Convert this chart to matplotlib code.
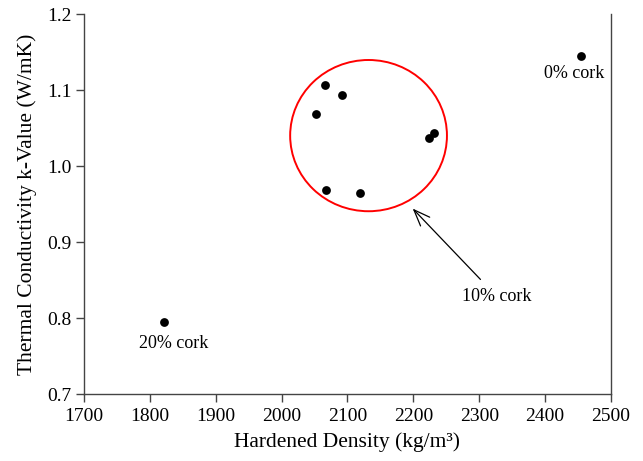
import matplotlib.pyplot as plt
from matplotlib.patches import Ellipse

plt.rcParams['font.family'] = ['Liberation Serif', 'DejaVu Serif']

# hardened density (kg/m3) and k-value (W/mK) per mix
density_0 = [2454]
kvalue_0 = [1.145]
density_10 = [2066, 2092, 2052, 2068, 2119, 2224, 2232]
kvalue_10 = [1.107, 1.093, 1.068, 0.968, 0.965, 1.037, 1.044]
density_20 = [1821]
kvalue_20 = [0.795]

x_ticks = [1700, 1800, 1900, 2000, 2100, 2200, 2300, 2400, 2500]
y_ticks = [0.7, 0.8, 0.9, 1.0, 1.1, 1.2]

fig, ax = plt.subplots(figsize=(6.43, 4.61), dpi=100)
fig.subplots_adjust(left=0.1306, right=0.9502, top=0.9696, bottom=0.1453)

for xs, ys in [(density_0, kvalue_0), (density_10, kvalue_10), (density_20, kvalue_20)]:
    ax.scatter(xs, ys, s=40, color='black', zorder=3, linewidths=0)

# ring around the 10% cork group
ax.add_patch(Ellipse((2132, 1.040), 238, 0.199, fill=False, edgecolor='red', lw=1.4))

ax.annotate('10% cork', xy=(2199, 0.944), xytext=(2327, 0.828),
            ha='center', va='center', fontsize=13,
            arrowprops=dict(arrowstyle='->,head_length=0.9,head_width=0.35',
                            color='black', lw=0.9, shrinkA=6, shrinkB=0))
ax.text(1836, 0.767, '20% cork', ha='center', va='center', fontsize=13)
ax.text(2444, 1.122, '0% cork', ha='center', va='center', fontsize=13)

ax.set_xlim(1700, 2500)
ax.set_ylim(0.7, 1.2)
ax.set_xticks(x_ticks)
ax.set_yticks(y_ticks)
ax.set_yticklabels([f'{v:.1f}' for v in y_ticks])
ax.tick_params(direction='out', length=6, width=1, color='#444444', labelsize=14, pad=3)
ax.tick_params(axis='x', pad=4)

ax.spines['top'].set_visible(False)
for side in ['left', 'bottom', 'right']:
    ax.spines[side].set_color('#444444')
    ax.spines[side].set_linewidth(1)

ax.set_xlabel('Hardened Density (kg/m³)', fontsize=15.5, labelpad=5)
ax.set_ylabel('Thermal Conductivity k-Value (W/mK)', fontsize=15.5, labelpad=7)

fig.savefig('out.png', dpi=100)
